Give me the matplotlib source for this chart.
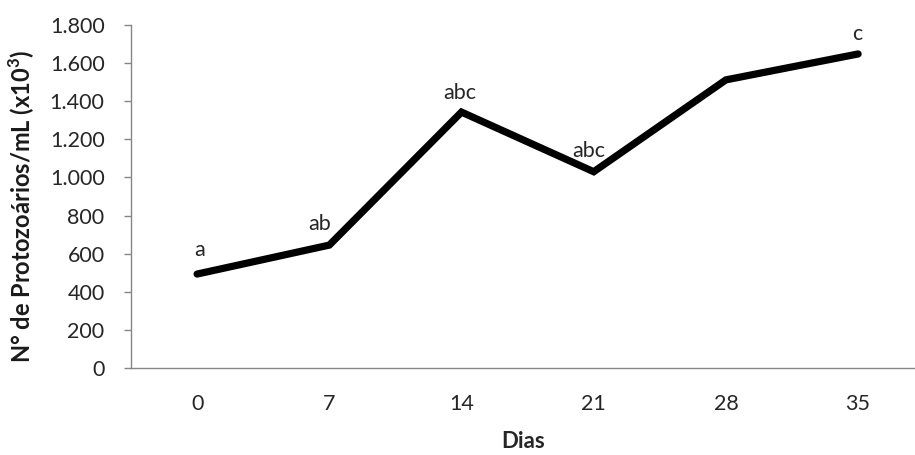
import matplotlib
matplotlib.use("Agg")
import matplotlib.pyplot as plt
from matplotlib.ticker import FuncFormatter

dias = ["0", "7", "14", "21", "28", "35"]
protozoarios = [493, 645, 1343, 1030, 1512, 1648]
letras = ["a", "ab", "abc", "abc", "", "c"]
y_ticks = [0, 200, 400, 600, 800, 1000, 1200, 1400, 1600, 1800]

plt.rcParams['font.family'] = ['Lato', 'DejaVu Sans']
plt.rcParams['mathtext.fontset'] = 'custom'
plt.rcParams['mathtext.rm'] = 'Lato:bold'
plt.rcParams['mathtext.bf'] = 'Lato:bold'

fig = plt.figure(figsize=(9.15, 4.55), dpi=100)
ax = fig.add_axes([131/915, 1-368/455, 1-131/915, (368-25)/455])

x = list(range(len(dias)))
ax.plot(x, protozoarios, color='black', linewidth=5.2, solid_joinstyle='miter', solid_capstyle='round')

offsets = [(3, 18), (-10, 15), (-2, 13), (-5, 15), (0, 0), (-1, 14)]
for xi, yi, lab, off in zip(x, protozoarios, letras, offsets):
    if lab:
        ax.annotate(lab, (xi, yi), xytext=off, textcoords='offset pixels',
                    ha='center', va='baseline', fontsize=15.5, color='#262626')

ax.set_xlim(-0.5, (915-131)/132.2 - 0.5)
ax.set_ylim(0, 1800)
ax.set_xticks(x)
ax.set_xticklabels(dias)
ax.set_yticks(y_ticks)
ax.yaxis.set_major_formatter(FuncFormatter(lambda v, p: f"{int(v):,}".replace(",", ".")))

for s in ['top', 'right']:
    ax.spines[s].set_visible(False)
for s in ['left', 'bottom']:
    ax.spines[s].set_color('#868686')
    ax.spines[s].set_linewidth(1.0)

ax.tick_params(axis='y', direction='out', length=5, width=1, color='#868686',
               labelsize=15.5, labelcolor='#262626', pad=14)
ax.tick_params(axis='x', length=0, labelsize=15.5, labelcolor='#262626', pad=19)

ax.set_xlabel("Dias", fontsize=16, fontweight='bold', color='#262626', labelpad=12)
ax.set_ylabel("N° de Protozoários/mL (x10$^{3}$)", fontsize=17, fontweight='bold',
              color='#1a1a1a')
ax.yaxis.set_label_coords(-(131-37)/(915-131), 0.47)

fig.savefig("out.png", dpi=100)
